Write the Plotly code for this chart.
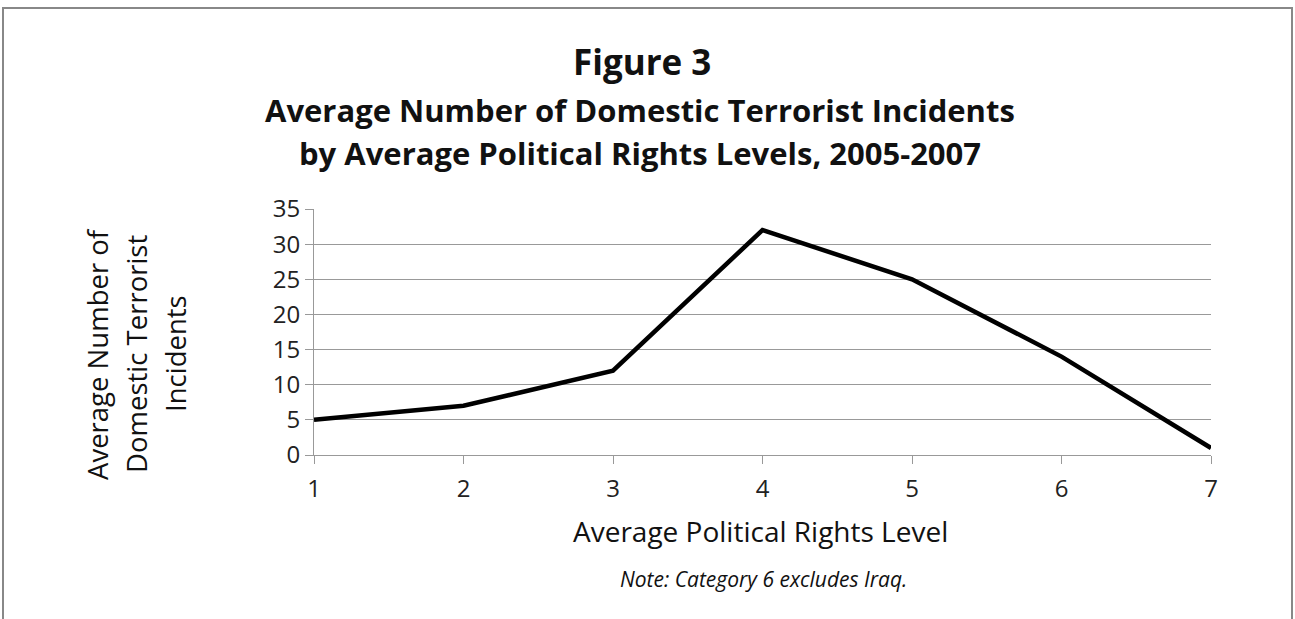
import plotly.graph_objects as go

levels = [1, 2, 3, 4, 5, 6, 7]
incidents = [5, 7, 12, 32, 25, 14, 1]
y_ticks = [0, 5, 10, 15, 20, 25, 30, 35]

W, H = 1295, 619
L, R, T, B = 314, 84, 209, 164
pw, ph = W - L - R, H - T - B

def px(x):
    return (x - L) / pw

def py(y):
    return (H - B - y) / ph

FONT = "Open Sans"

fig = go.Figure()
fig.add_trace(go.Scatter(x=levels, y=incidents, mode="lines",
                         line=dict(color="black", width=4.5), showlegend=False,
                         hoverinfo="skip"))

fig.update_layout(
    width=W, height=H,
    margin=dict(l=L, r=R, t=T, b=B),
    paper_bgcolor="white", plot_bgcolor="white",
    font=dict(family=FONT, color="#222"),
    xaxis=dict(range=[1, 7], tickvals=levels, ticks="outside", ticklen=8,
               tickcolor="#999", showgrid=False, showline=True, linecolor="#999",
               linewidth=1, tickfont=dict(size=24, family=FONT), zeroline=False,
               ticklabelstandoff=4, fixedrange=True),
    yaxis=dict(range=[0, 35], tickvals=y_ticks, ticks="outside", ticklen=8,
               tickcolor="#999", showgrid=True, gridcolor="#999", gridwidth=1,
               showline=True, linecolor="#999", linewidth=1,
               tickfont=dict(size=24, family=FONT), zeroline=False, fixedrange=True),
)

fig.add_shape(type="rect", xref="paper", yref="paper",
              x0=px(3), x1=px(1292), y0=py(8), y1=py(640),
              line=dict(color="#888", width=2), layer="below")

def ann(text, x, y, size, bold=False, italic=False, angle=0):
    t = text
    if bold:
        t = "<b>" + t + "</b>"
    if italic:
        t = "<i>" + t + "</i>"
    fig.add_annotation(text=t, xref="paper", yref="paper", x=px(x), y=py(y),
                       xanchor="center", yanchor="middle", showarrow=False,
                       textangle=angle, font=dict(size=size, family=FONT, color="#111"))

ann("Figure 3", 642, 61, 35, bold=True)
ann("Average Number of Domestic Terrorist Incidents", 640, 110, 31, bold=True)
ann("by Average Political Rights Levels, 2005-2007", 640, 153, 31, bold=True)
ann("Average Political Rights Level", 760, 531, 28)
ann("Note: Category 6 excludes Iraq.", 763, 579, 21, italic=True)
ann("Average Number of", 97, 354, 27.5, angle=-90)
ann("Domestic Terrorist", 136, 354, 27.5, angle=-90)
ann("Incidents", 175, 354, 27.5, angle=-90)

fig.write_html("out.html")
